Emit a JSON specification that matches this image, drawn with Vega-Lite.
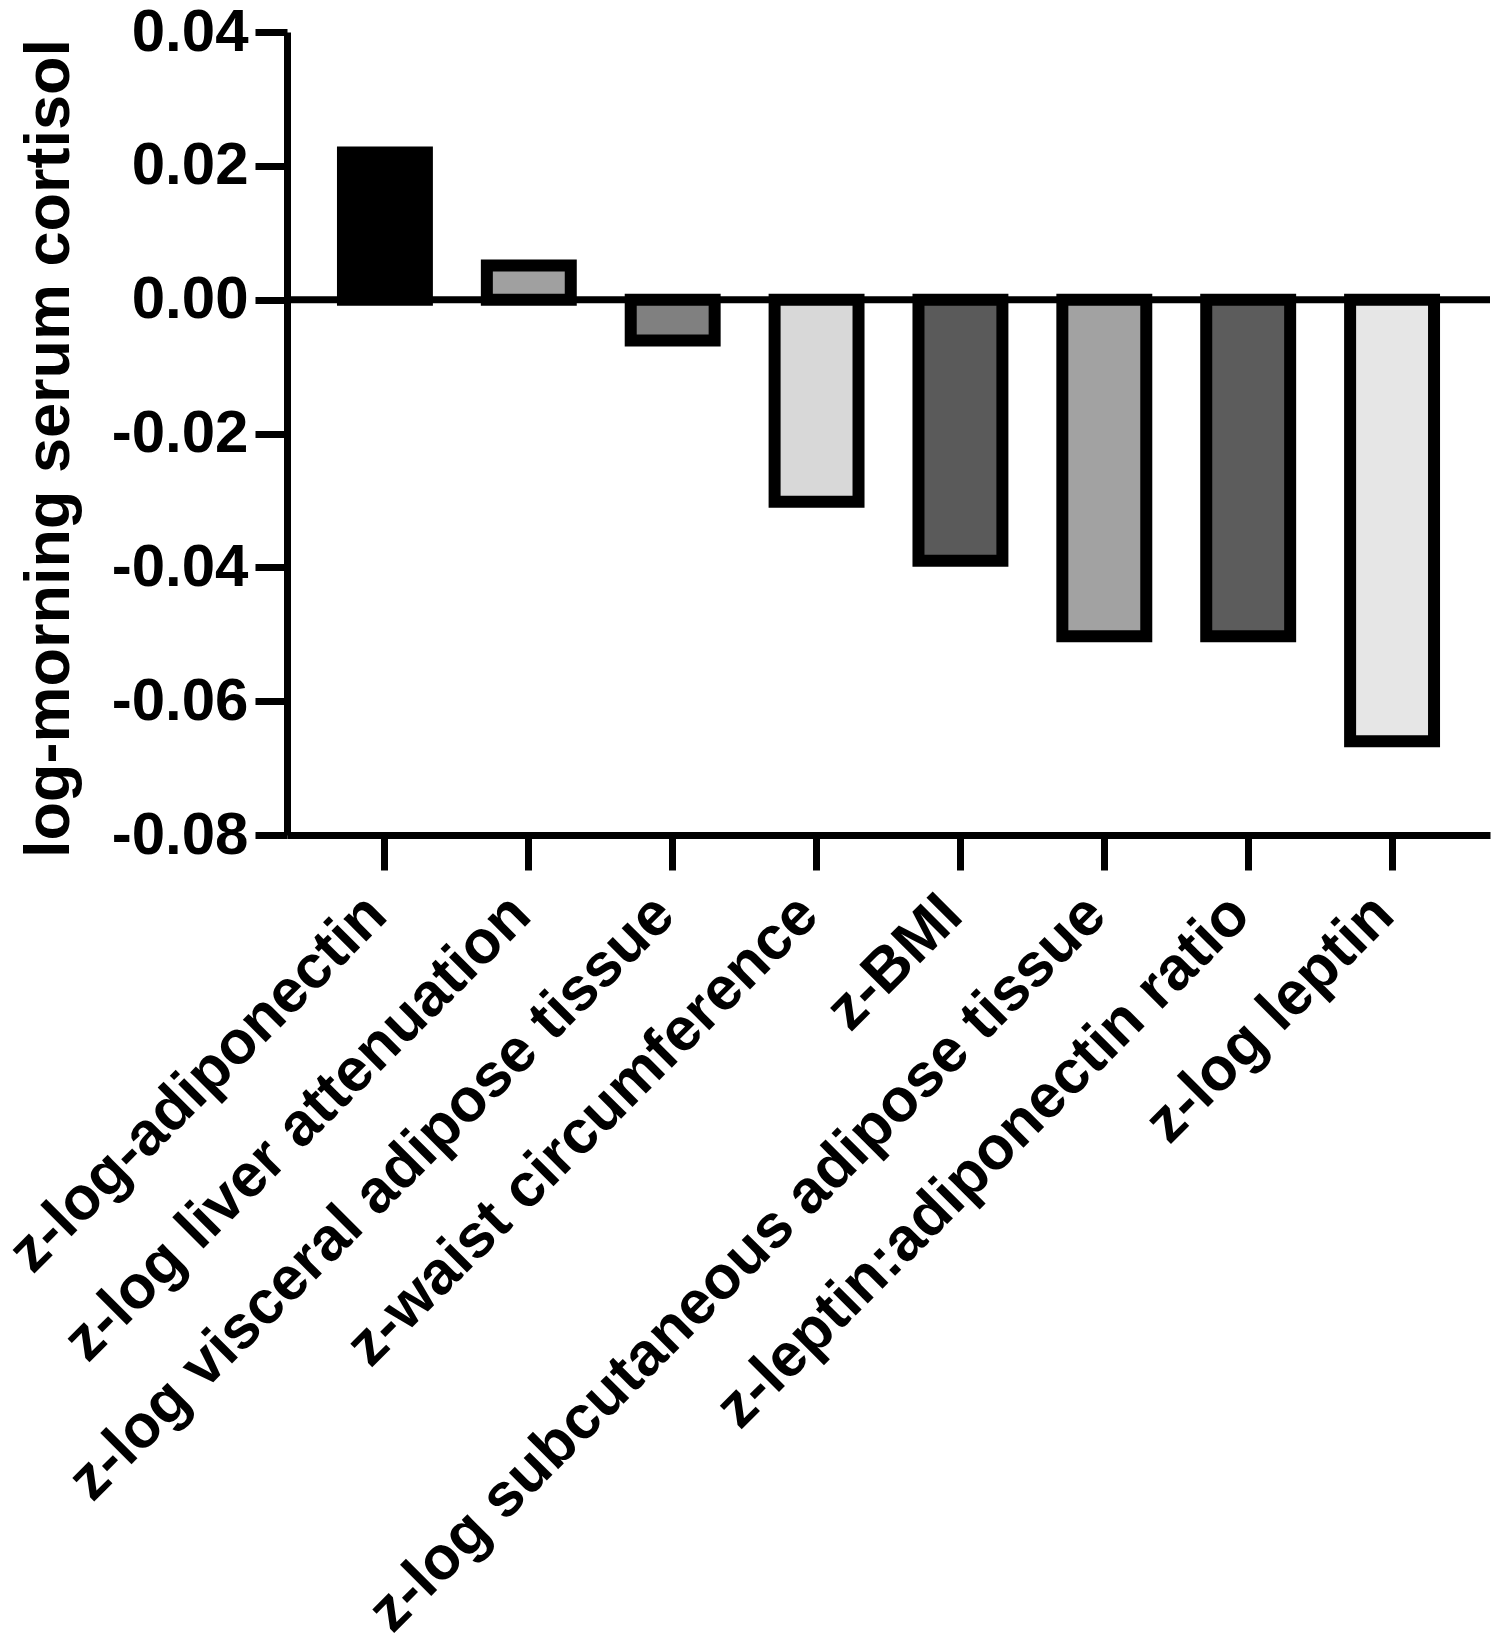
{
  "$schema": "https://vega.github.io/schema/vega-lite/v6.json",
  "autosize": "none",
  "padding": {"left": 287, "top": 32, "right": 10, "bottom": 807},
  "width": 1203,
  "height": 803,
  "background": "white",
  "config": {
    "view": {"stroke": null},
    "font": "Liberation Sans"
  },
  "data": {
    "values": [
      {"variable": "z-log-adiponectin", "beta": 0.022},
      {"variable": "z-log liver attenuation", "beta": 0.0051},
      {"variable": "z-log visceral adipose tissue", "beta": -0.0061},
      {"variable": "z-waist circumference", "beta": -0.0302},
      {"variable": "z-BMI", "beta": -0.039},
      {"variable": "z-log subcutaneous adipose tissue", "beta": -0.0503},
      {"variable": "z-leptin:adiponectin ratio", "beta": -0.0503},
      {"variable": "z-log leptin", "beta": -0.066}
    ]
  },
  "layer": [
    {
      "mark": {"type": "bar", "stroke": "black", "strokeWidth": 12, "strokeJoin": "miter"},
      "encoding": {
        "x": {
          "field": "variable",
          "type": "nominal",
          "sort": null,
          "scale": {"paddingInner": 0.4167, "paddingOuter": 0.389},
          "axis": {
            "title": null,
            "labelAngle": -45,
            "labelAlign": "right",
            "labelBaseline": "middle",
            "labelFont": "Liberation Sans",
            "labelFontWeight": "bold",
            "labelFontSize": 61,
            "labelColor": "black",
            "labelPadding": 35,
            "labelOffset": -8,
            "labelLimit": 2000,
            "labelOverlap": false,
            "domainColor": "black",
            "domainWidth": 7,
            "tickColor": "black",
            "tickWidth": 7,
            "tickSize": 35
          }
        },
        "y": {
          "field": "beta",
          "type": "quantitative",
          "scale": {"domain": [-0.08, 0.04], "nice": false, "zero": false},
          "axis": {
            "title": "log-morning serum cortisol",
            "titleFont": "Liberation Sans",
            "titleFontWeight": "bold",
            "titleFontSize": 63,
            "titleColor": "black",
            "titleX": -238,
            "titleY": 416,
            "titleBaseline": "middle",
            "values": [-0.08, -0.06, -0.04, -0.02, 0, 0.02, 0.04],
            "labelExpr": "replace(format(datum.value, '.2f'), '\u2212', '-')",
            "labelFont": "Liberation Sans",
            "labelFontWeight": "bold",
            "labelFontSize": 60,
            "labelColor": "black",
            "labelPadding": 7,
            "grid": false,
            "domainColor": "black",
            "domainWidth": 7,
            "tickColor": "black",
            "tickWidth": 7,
            "tickSize": 32
          }
        },
        "color": {
          "field": "variable",
          "type": "nominal",
          "legend": null,
          "scale": {
            "domain": ["z-log-adiponectin", "z-log liver attenuation", "z-log visceral adipose tissue", "z-waist circumference", "z-BMI", "z-log subcutaneous adipose tissue", "z-leptin:adiponectin ratio", "z-log leptin"],
            "range": ["#000000", "#a0a0a0", "#808080", "#d8d8d8", "#5a5a5a", "#a2a2a2", "#5c5c5c", "#e6e6e6"]
          }
        }
      }
    },
    {
      "data": {"values": [{"y": 0}]},
      "mark": {"type": "rule", "color": "black", "strokeWidth": 7},
      "encoding": {"y": {"field": "y", "type": "quantitative"}}
    }
  ]
}
